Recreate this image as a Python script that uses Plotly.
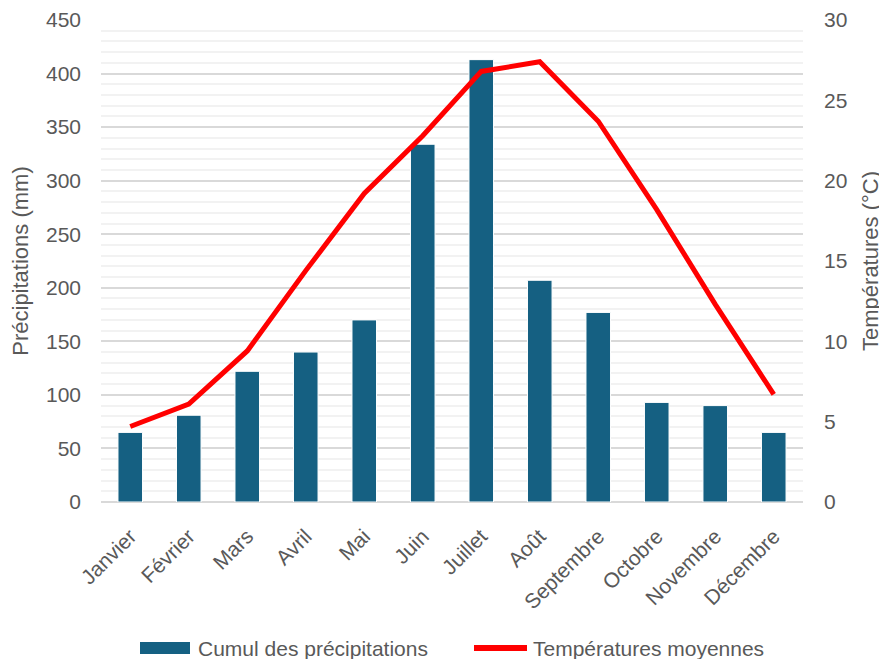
import plotly.graph_objects as go

months = ["Janvier", "Février", "Mars", "Avril", "Mai", "Juin", "Juillet",
          "Août", "Septembre", "Octobre", "Novembre", "Décembre"]
precipitations = [65, 81, 122, 140, 170, 334, 413, 207, 177, 93, 90, 65]
temperatures = [4.7, 6.1, 9.4, 14.4, 19.2, 22.8, 26.8, 27.4, 23.7, 18.2, 12.3, 6.7]

bar_name = "Cumul des précipitations"
line_name = "Températures moyennes"
left_title = "Précipitations (mm)"
right_title = "Températures (°C)"

BAR_COLOR = "#156082"
LINE_COLOR = "#FF0000"
TEXT_COLOR = "#595959"
FONT = "Liberation Sans, Arial, sans-serif"

# The page body has an 8px margin, so the figure is drawn 8px in from the corner.
OFF = 8
W, H = 887 - OFF, 659 - OFF
PLOT_L, PLOT_R, PLOT_T, PLOT_B = 101, 803, 20, 502  # target window pixels
ML, MT = PLOT_L - OFF, PLOT_T - OFF
MR, MB = W - (PLOT_R - OFF), H - (PLOT_B - OFF)
PW, PH = W - ML - MR, H - MT - MB


def px_x(px):
    return (px - OFF - ML) / PW


def px_y(py):
    return (H - MB - (py - OFF)) / PH


fig = go.Figure()
fig.add_trace(go.Bar(
    x=months, y=precipitations, name=bar_name,
    marker=dict(color=BAR_COLOR, line=dict(color="#FFFFFF", width=1)),
    width=0.42, yaxis="y", showlegend=False,
))
fig.add_trace(go.Scatter(
    x=months, y=temperatures, name=line_name, mode="lines",
    line=dict(color=LINE_COLOR, width=5), yaxis="y2", showlegend=False,
))

tick_font = dict(family=FONT, size=21, color=TEXT_COLOR)
title_font = dict(family=FONT, size=22, color=TEXT_COLOR)

# Custom legend (wide bar swatch + thick line swatch)
legend_y = px_y(648)
fig.add_shape(type="rect", xref="paper", yref="paper",
              x0=px_x(140), x1=px_x(190), y0=px_y(654), y1=px_y(642),
              fillcolor=BAR_COLOR, line=dict(width=0))
fig.add_shape(type="line", xref="paper", yref="paper",
              x0=px_x(474), x1=px_x(527), y0=legend_y, y1=legend_y,
              line=dict(color=LINE_COLOR, width=6))
fig.add_annotation(text=bar_name, xref="paper", yref="paper",
                   x=px_x(196), y=legend_y, xanchor="left", yanchor="middle",
                   showarrow=False, font=dict(family=FONT, size=21, color=TEXT_COLOR))
fig.add_annotation(text=line_name, xref="paper", yref="paper",
                   x=px_x(531), y=legend_y, xanchor="left", yanchor="middle",
                   showarrow=False, font=dict(family=FONT, size=21, color=TEXT_COLOR))

fig.update_layout(
    width=W, height=H,
    margin=dict(l=ML, r=MR, t=MT, b=MB, autoexpand=False),
    plot_bgcolor="white", paper_bgcolor="white",
    showlegend=False,
    xaxis=dict(
        type="category", tickangle=-45, tickfont=tick_font, automargin=False,
        showgrid=False, showline=False, ticks="", zeroline=False,
        ticklabelstandoff=17,
    ),
    yaxis=dict(
        range=[0, 450], dtick=50, tickfont=tick_font, automargin=False,
        showgrid=True, gridcolor="#D9D9D9", gridwidth=1.5,
        zeroline=True, zerolinecolor="#D9D9D9", zerolinewidth=1.5,
        minor=dict(dtick=10, showgrid=True, gridcolor="#F2F2F2", gridwidth=1.5),
        ticks="", ticklabelstandoff=19,
        title=dict(text=left_title, font=title_font, standoff=12),
    ),
    yaxis2=dict(
        range=[0, 30], dtick=5, overlaying="y", side="right", automargin=False,
        tickfont=tick_font, showgrid=False, zeroline=False, ticks="",
        ticklabelstandoff=20,
        title=dict(text=right_title, font=title_font, standoff=16),
    ),
)

fig.write_html("out.html")
